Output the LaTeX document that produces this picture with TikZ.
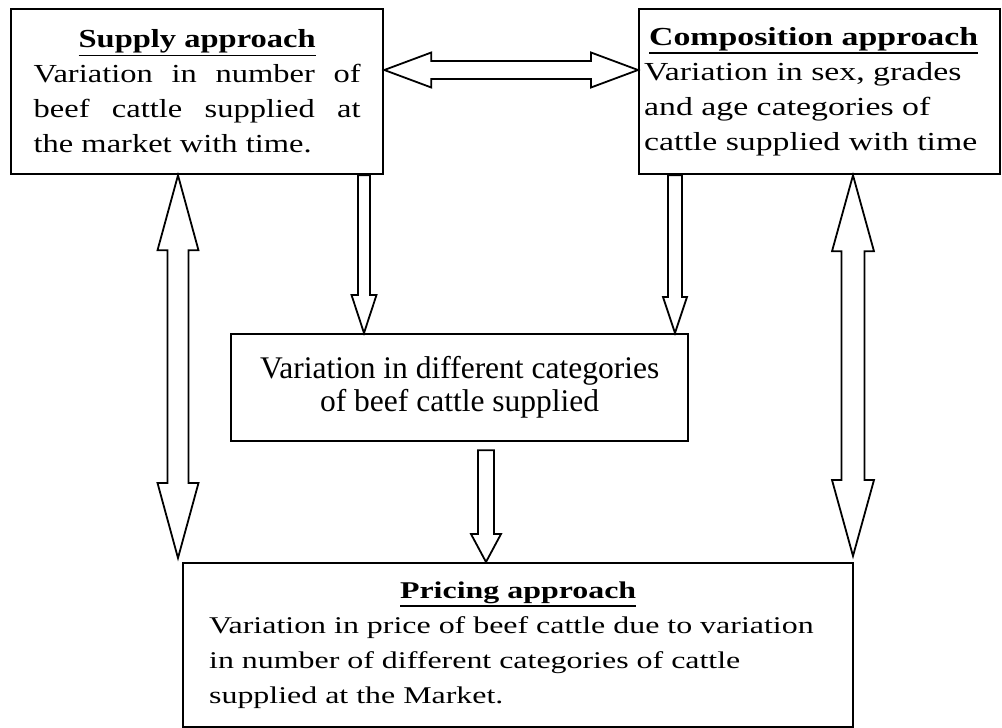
\documentclass[tikz,border=0pt]{standalone}
\usepackage{fontspec}
\setmainfont{Liberation Serif}
\newfontfamily\widefont[FakeStretch=1.25]{Liberation Serif}
\newfontfamily\compfont[FakeStretch=1.3]{Liberation Serif}
\newfontfamily\pricefont[FakeStretch=1.33]{Liberation Serif}
\usetikzlibrary{calc}
\newcommand\myul[1]{\leavevmode\vtop{\hbox{#1}\kern1pt\hrule height 1.8pt}}
\newcommand\fixsp{\spaceskip=0pt\xspaceskip=0pt\relax}
\tikzset{
  box/.style={draw, line width=2.3pt, anchor=north west, inner ysep=0pt},
  blk/.style={draw, line width=1.8pt, fill=white, line join=miter},
}
% vertical double block arrow: top, bottom, half shaft, half head, head length
\newcommand\vdbl[5]{%
  \draw[blk] let \p1=(#1), \p2=(#2) in
    (\x1,\y1) -- (\x1+#4,\y1-#5) -- (\x1+#3,\y1-#5) -- (\x1+#3,\y2+#5)
    -- (\x1+#4,\y2+#5) -- (\x1,\y2) -- (\x1-#4,\y2+#5) -- (\x1-#3,\y2+#5)
    -- (\x1-#3,\y1-#5) -- (\x1-#4,\y1-#5) -- cycle;}
% downward single block arrow
\newcommand\vdown[5]{%
  \draw[blk] let \p1=(#1), \p2=(#2) in
    (\x1-#3,\y1) -- (\x1-#3,\y2+#5) -- (\x1-#4,\y2+#5) -- (\x1,\y2)
    -- (\x1+#4,\y2+#5) -- (\x1+#3,\y2+#5) -- (\x1+#3,\y1) -- cycle;}
% horizontal double block arrow
\newcommand\hdbl[5]{%
  \draw[blk] let \p1=(#1), \p2=(#2) in
    (\x1,\y1) -- (\x1+#5,\y1+#4) -- (\x1+#5,\y1+#3) -- (\x2-#5,\y1+#3)
    -- (\x2-#5,\y1+#4) -- (\x2,\y1) -- (\x2-#5,\y1-#4) -- (\x2-#5,\y1-#3)
    -- (\x1+#5,\y1-#3) -- (\x1+#5,\y1-#4) -- cycle;}
\begin{document}
\begin{tikzpicture}[x=1pt,y=-1pt]
\useasboundingbox (0,0) rectangle (1002,728);

\node[box, minimum width=372pt, minimum height=165pt, text width=327pt,
      inner xsep=22.5pt, align=justify, font={\fontsize{26}{35}\widefont}] (supply) at (10,8)
  {\fixsp
   {\centering\myul{\bfseries Supply approach}\par}
   Variation in number of\linebreak
   beef cattle supplied at\linebreak
   the market with time.\par};

\node[box, minimum width=361pt, minimum height=165pt, text width=351pt,
      inner xsep=5pt, align=left, font={\fontsize{26}{35}\compfont}] (comp) at (638,8)
  {\fixsp
   {\centering\hspace*{-12pt}\myul{\bfseries Composition approach}\par}
   Variation in sex, grades\\
   and age categories of\\
   cattle supplied with time\par};

\node[box, minimum width=457pt, minimum height=107pt, text width=440pt,
      inner xsep=8.5pt, align=left, font={\fontsize{31.5}{33}\selectfont}] (mid) at (230,333)
  {\fixsp
   {\centering Variation in different categories\\
   of beef cattle supplied\par}\vspace*{10pt}};

\node[box, minimum width=670pt, minimum height=164pt, text width=618pt,
      inner xsep=26pt, align=left, font={\fontsize{24}{35}\pricefont}] (pricing) at (182,562)
  {\fixsp
   {\centering\myul{\bfseries Pricing approach}\par}
   Variation in price of beef cattle due to variation\\
   in number of different categories of cattle\\
   supplied at the Market.\par};

% connector end points
\coordinate (h1) at (supply.east |- 0,70);
\coordinate (h2) at (comp.west |- 0,70);
\coordinate (l1) at (supply.south -| 178,0);
\coordinate (l2) at ($(pricing.north -| 178,0)+(0,-4)$);
\coordinate (r1) at (comp.south -| 853,0);
\coordinate (r2) at ($(pricing.north -| 853,0)+(0,-6)$);
\coordinate (s1) at (supply.south -| 364,0);
\coordinate (s2) at (mid.north -| 364,0);
\coordinate (c1) at (comp.south -| 675,0);
\coordinate (c2) at (mid.north -| 675,0);
\coordinate (m1) at ($(mid.south -| 486,0)+(0,8)$);
\coordinate (m2) at (pricing.north -| 486,0);

\hdbl{h1}{h2}{9pt}{17.5pt}{47pt}
\vdbl{l1}{l2}{10.5pt}{20.5pt}{75pt}
\vdbl{r1}{r2}{11.5pt}{21pt}{76pt}
\vdown{s1}{s2}{6pt}{12.5pt}{38pt}
\vdown{c1}{c2}{7pt}{12pt}{36pt}
\vdown{m1}{m2}{8pt}{15pt}{28pt}
\end{tikzpicture}
\end{document}
